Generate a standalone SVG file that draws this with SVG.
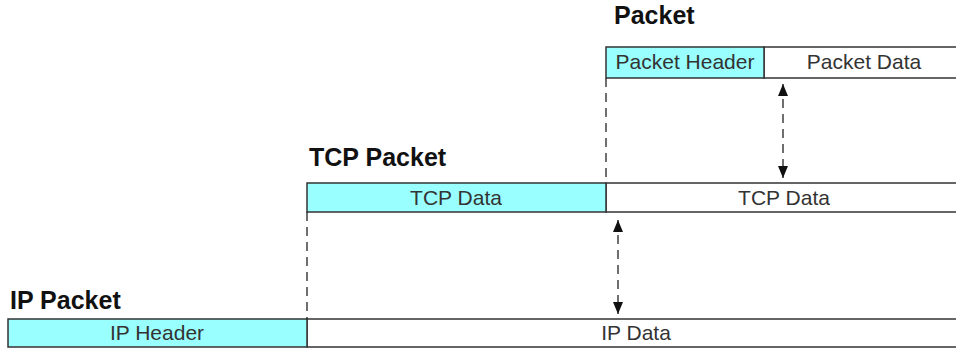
<svg xmlns="http://www.w3.org/2000/svg" width="956" height="351" viewBox="0 0 956 351">
<style>
.t{font-family:"Liberation Sans",Arial,sans-serif;font-size:21px;fill:#333;text-anchor:middle}
.h{font-family:"Liberation Sans",Arial,sans-serif;font-size:25px;font-weight:bold;fill:#111}
.c{fill:#99ffff;stroke:#333;stroke-width:1.5}
.w{fill:#fff;stroke:#333;stroke-width:1.5}
.d{stroke:#222;stroke-width:1.3;stroke-dasharray:9,6;fill:none}
</style>
<defs>
<marker id="a" markerWidth="12" markerHeight="12" refX="12" refY="5" orient="auto-start-reverse" markerUnits="userSpaceOnUse">
<path d="M0,0 L12,5 L0,10 z" fill="#111"/>
</marker>
</defs>
<rect width="956" height="351" fill="#fff"/>
<g id="packet">
<text class="h" x="614" y="24">Packet</text>
<rect class="w" x="764" y="47" width="200" height="31"/>
<rect class="c" x="606" y="47" width="158" height="31"/>
<text class="t" x="685" y="69">Packet Header</text>
<text class="t" x="864" y="69">Packet Data</text>
</g>
<g id="tcp">
<text class="h" x="309" y="166">TCP Packet</text>
<rect class="w" x="606" y="183" width="358" height="29"/>
<rect class="c" x="307" y="183" width="299" height="29"/>
<text class="t" x="456" y="205">TCP Data</text>
<text class="t" x="784" y="205">TCP Data</text>
</g>
<g id="ip">
<text class="h" x="10" y="309">IP Packet</text>
<rect class="w" x="307" y="319" width="657" height="28"/>
<rect class="c" x="8" y="319" width="299" height="28"/>
<text class="t" x="157" y="340">IP Header</text>
<text class="t" x="636" y="340">IP Data</text>
</g>
<g id="connectors">
<line class="d" x1="606" y1="78" x2="606" y2="183"/>
<line class="d" x1="307" y1="212" x2="307" y2="319"/>
<line class="d" x1="783" y1="84" x2="783" y2="178" marker-start="url(#a)" marker-end="url(#a)"/>
<line class="d" x1="618" y1="220" x2="618" y2="314" marker-start="url(#a)" marker-end="url(#a)"/>
</g>
</svg>
